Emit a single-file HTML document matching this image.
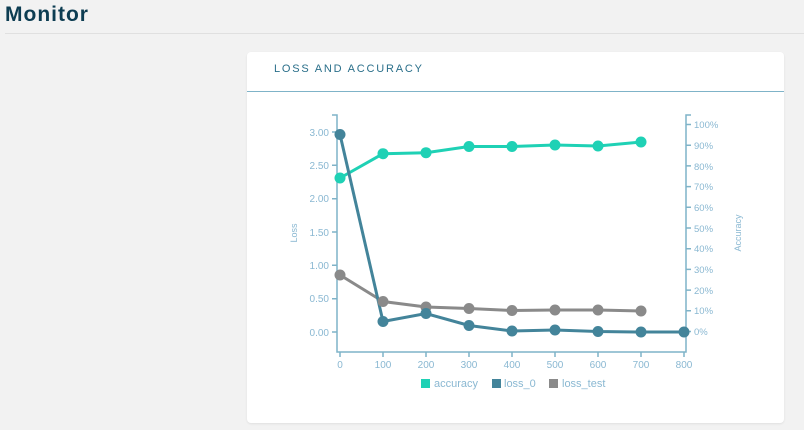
<!DOCTYPE html>
<html><head><style>
body{margin:0;width:804px;height:430px;background:#f2f2f2;font-family:"Liberation Sans",sans-serif;overflow:hidden;position:relative}
.h{position:absolute;left:5px;top:3px;font-size:21px;font-weight:bold;color:#0d3d52;letter-spacing:1px}
.hl{position:absolute;left:5px;top:33px;width:799px;height:1px;background:#e0e0e0}
.card{position:absolute;left:247px;top:52px;width:537px;height:371px;background:#fff;border-radius:4px;box-shadow:0 1px 2px rgba(0,0,0,.08)}
.t{position:absolute;left:27px;top:11px;font-size:11px;letter-spacing:1.8px;color:#2a6f8a}
.tl{position:absolute;left:0;top:39px;width:537px;height:1px;background:#7fb3c8}
svg{position:absolute;left:0;top:0}
</style></head><body>
<div class="h">Monitor</div><div class="hl"></div>
<div class="card"><div class="t">LOSS AND ACCURACY</div><div class="tl"></div></div>
<svg width="804" height="430" font-family="Liberation Sans, sans-serif" font-size="10" fill="#8ab8d2">
<g stroke="#7fb3c8" stroke-width="1.5" fill="none">
<path d="M332 115H337V352H686V115H691"/>
<path d="M332 132h5M332 165.3h5M332 198.7h5M332 232h5M332 265.3h5M332 298.7h5M332 332h5"/>
<path d="M686 124.5h5M686 145.2h5M686 165.9h5M686 186.6h5M686 207.3h5M686 228h5M686 248.7h5M686 269.4h5M686 290.1h5M686 310.8h5M686 331.5h5"/>
<path d="M340 352v5M383 352v5M426 352v5M469 352v5M512 352v5M555 352v5M598 352v5M641 352v5M684 352v5"/>
</g>
<g text-anchor="end">
<text x="329" y="136">3.00</text><text x="329" y="169">2.50</text><text x="329" y="202">2.00</text><text x="329" y="236">1.50</text><text x="329" y="269">1.00</text><text x="329" y="302">0.50</text><text x="329" y="336">0.00</text>
</g>
<g font-size="9.5">
<text x="694" y="128">100%</text><text x="694" y="149">90%</text><text x="694" y="170">80%</text><text x="694" y="190">70%</text><text x="694" y="211">60%</text><text x="694" y="232">50%</text><text x="694" y="252">40%</text><text x="694" y="273">30%</text><text x="694" y="294">20%</text><text x="694" y="314">10%</text><text x="694" y="335">0%</text>
</g>
<g text-anchor="middle">
<text x="340" y="368">0</text><text x="383" y="368">100</text><text x="426" y="368">200</text><text x="469" y="368">300</text><text x="512" y="368">400</text><text x="555" y="368">500</text><text x="598" y="368">600</text><text x="641" y="368">700</text><text x="684" y="368">800</text>
</g>
<text transform="translate(297,233) rotate(-90)" text-anchor="middle" font-size="9">Loss</text>
<text transform="translate(741,233) rotate(-90)" text-anchor="middle" font-size="9">Accuracy</text>
<g stroke-width="3" fill="none">
<polyline stroke="#1fd1b5" points="340,178 383,153.7 426,152.7 469,146.5 512,146.5 555,145 598,146 641,142"/>
<polyline stroke="#8a8a8a" points="340,275 383,301.5 426,307 469,308.5 512,310.5 555,310 598,310 641,311"/>
<polyline stroke="#43849a" points="340,134.5 383,321.5 426,313.5 469,325.5 512,331 555,330 598,331.5 641,332 684,332"/>
</g>
<g fill="#1fd1b5"><circle cx="340" cy="178" r="5.5"/><circle cx="383" cy="153.7" r="5.5"/><circle cx="426" cy="152.7" r="5.5"/><circle cx="469" cy="146.5" r="5.5"/><circle cx="512" cy="146.5" r="5.5"/><circle cx="555" cy="145" r="5.5"/><circle cx="598" cy="146" r="5.5"/><circle cx="641" cy="142" r="5.5"/></g>
<g fill="#8a8a8a"><circle cx="340" cy="275" r="5.5"/><circle cx="383" cy="301.5" r="5.5"/><circle cx="426" cy="307" r="5.5"/><circle cx="469" cy="308.5" r="5.5"/><circle cx="512" cy="310.5" r="5.5"/><circle cx="555" cy="310" r="5.5"/><circle cx="598" cy="310" r="5.5"/><circle cx="641" cy="311" r="5.5"/></g>
<g fill="#43849a"><circle cx="340" cy="134.5" r="5.5"/><circle cx="383" cy="321.5" r="5.5"/><circle cx="426" cy="313.5" r="5.5"/><circle cx="469" cy="325.5" r="5.5"/><circle cx="512" cy="331" r="5.5"/><circle cx="555" cy="330" r="5.5"/><circle cx="598" cy="331.5" r="5.5"/><circle cx="641" cy="332" r="5.5"/><circle cx="684" cy="332" r="5.5"/></g>
<g font-size="11">
<rect x="421" y="379" width="9" height="9" fill="#1fd1b5"/><text x="434" y="387">accuracy</text>
<rect x="492" y="379" width="9" height="9" fill="#43849a"/><text x="504" y="387">loss_0</text>
<rect x="549" y="379" width="9" height="9" fill="#8a8a8a"/><text x="562" y="387">loss_test</text>
</g>
</svg>
</body></html>
